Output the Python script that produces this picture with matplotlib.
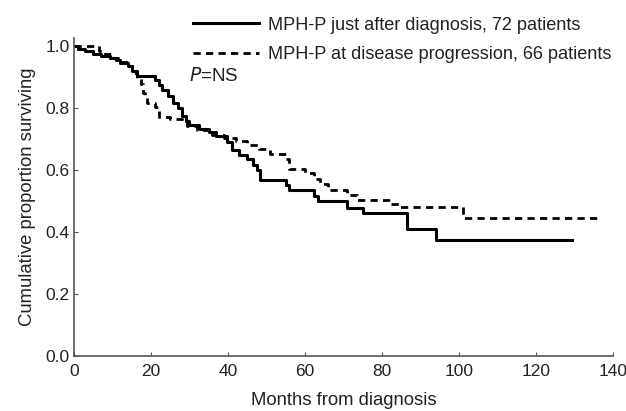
import matplotlib.pyplot as plt

plt.rcParams['font.family'] = ['Liberation Sans', 'DejaVu Sans']

# Kaplan-Meier steps (month of step, survival after step)
early_t = [0, 1, 3, 5, 7, 9.5, 11, 12, 14, 15, 16.3, 21, 22, 23, 24.5, 25.8,
           27, 28, 29, 30, 32.5, 35, 37, 39.7, 41, 43, 45, 46.5, 47.5, 48.3,
           55, 56, 62.5, 63.3, 71, 75, 86.5, 94, 129.5]
early_s = [1.0, 0.99, 0.985, 0.975, 0.97, 0.962, 0.955, 0.945, 0.935, 0.92,
           0.903, 0.89, 0.875, 0.86, 0.84, 0.818, 0.80, 0.775, 0.76, 0.745,
           0.733, 0.722, 0.71, 0.69, 0.665, 0.65, 0.635, 0.615, 0.60, 0.568,
           0.552, 0.535, 0.517, 0.50, 0.478, 0.461, 0.41, 0.375, 0.375]

late_t = [0, 6.5, 8, 10, 12, 14, 15, 16.5, 17.5, 18, 18.5, 19, 21, 22, 25,
          28, 29.5, 32, 36, 39, 42, 45, 48, 51, 55, 56, 60, 62.5, 64, 66, 71,
          73.5, 82, 84.5, 101, 137]
late_s = [1.0, 0.985, 0.975, 0.962, 0.95, 0.935, 0.915, 0.895, 0.878, 0.85,
          0.835, 0.818, 0.803, 0.772, 0.765, 0.755, 0.742, 0.728, 0.715, 0.705,
          0.695, 0.682, 0.667, 0.652, 0.636, 0.605, 0.59, 0.57, 0.555, 0.535,
          0.52, 0.503, 0.49, 0.48, 0.447, 0.447]

labels = ['MPH-P just after diagnosis, 72 patients',
          'MPH-P at disease progression, 66 patients']
x_ticks = [0, 20, 40, 60, 80, 100, 120, 140]
y_ticks = [0.0, 0.2, 0.4, 0.6, 0.8, 1.0]

fig = plt.figure(figsize=(6.26, 4.11), dpi=100)
ax = fig.add_axes([0.118, 0.134, 0.861, 0.773])

l1, = ax.step(early_t, early_s, where='post', color='black', lw=2.2)
l2, = ax.step(late_t, late_s, where='post', color='black', lw=2.0,
              linestyle=(0, (2.6, 1.9)))

ax.set_xlim(0, 140)
ax.set_ylim(0, 1.026)
ax.set_xticks(x_ticks)
ax.set_yticks(y_ticks)
ax.set_yticklabels(['%.1f' % v for v in y_ticks])

for side in ['top', 'right']:
    ax.spines[side].set_visible(False)
for side in ['left', 'bottom']:
    ax.spines[side].set_color('#555555')
    ax.spines[side].set_linewidth(1.2)
ax.tick_params(direction='in', length=3, width=0.8, color='#555555',
               labelsize=12.5, labelcolor='#222222', pad=3)
ax.tick_params(axis='x', pad=6)

ax.set_xlabel('Months from diagnosis', fontsize=13.3, color='#222222', labelpad=9)
ax.set_ylabel('Cumulative proportion surviving', fontsize=13.3, color='#222222',
              labelpad=7)

leg = fig.legend([l1, l2], labels, loc='upper left',
                 bbox_to_anchor=(0.297, 0.977), frameon=False, fontsize=13.1,
                 handlelength=3.6, handletextpad=0.5, labelspacing=0.7,
                 borderaxespad=0)
for t in leg.get_texts():
    t.set_color('#222222')

ax.text(30, 0.905, '$P$=NS', fontsize=13.5, color='#222222', va='center')

fig.savefig('out.png', dpi=100)
